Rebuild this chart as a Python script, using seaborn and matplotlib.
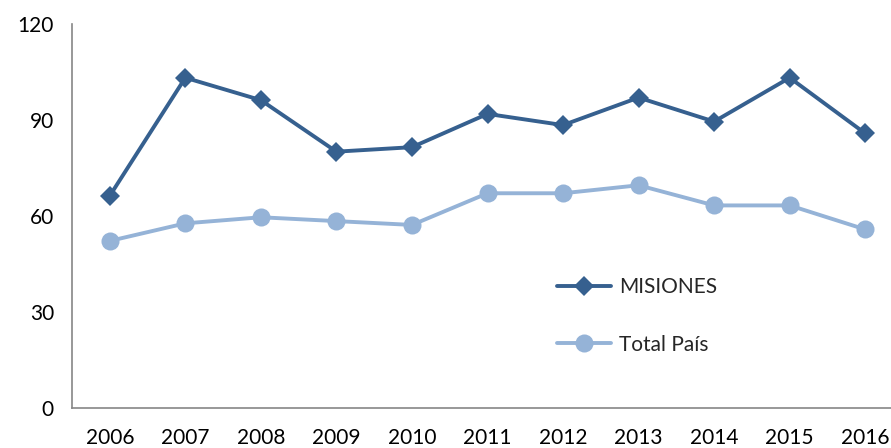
import pandas as pd
import matplotlib
matplotlib.use("Agg")
import matplotlib.pyplot as plt
import seaborn as sns

# --- Datos ---
years = [2006, 2007, 2008, 2009, 2010, 2011, 2012, 2013, 2014, 2015, 2016]
misiones = [66.4, 103.3, 96.3, 80.2, 81.6, 92.0, 88.5, 97.1, 89.6, 103.3, 85.9]
total_pais = [52.3, 57.8, 59.7, 58.5, 57.3, 67.2, 67.2, 69.7, 63.4, 63.4, 55.9]
y_ticks = [0, 30, 60, 90, 120]

DARK = "#36608f"
LIGHT = "#95b3d7"
AXIS_GRAY = "#868686"

sns.set_style("white")
plt.rcParams["font.family"] = ["Lato", "DejaVu Sans"]

df = pd.DataFrame({"year": years, "MISIONES": misiones, "Total País": total_pais})

fig = plt.figure(figsize=(8.91, 4.48), dpi=100)
ax = fig.add_axes([72 / 891, 39.7 / 448, 831 / 891, 384 / 448])

sns.lineplot(data=df, x="year", y="MISIONES", ax=ax, color=DARK, linewidth=2.8,
             marker="D", markersize=10.5, markeredgewidth=0, label="MISIONES")
sns.lineplot(data=df, x="year", y="Total País", ax=ax, color=LIGHT, linewidth=2.8,
             marker="o", markersize=13, markeredgewidth=0, label="Total País")

ax.set_xlim(years[0] - 0.5, years[-1] + 0.5)
ax.set_ylim(0, 120)
ax.set_xticks(years)
ax.set_xticklabels([str(y) for y in years])
ax.set_yticks(y_ticks)
ax.set_xlabel("")
ax.set_ylabel("")
ax.tick_params(axis="both", length=0, labelsize=15, colors="black")
ax.tick_params(axis="y", pad=13)
ax.tick_params(axis="x", pad=14)

for side in ["top", "right"]:
    ax.spines[side].set_visible(False)
for side in ["left", "bottom"]:
    ax.spines[side].set_color(AXIS_GRAY)
    ax.spines[side].set_linewidth(1.2)

ax.legend(loc="upper left", bbox_to_anchor=(0.561, 0.39), frameon=False, fontsize=15,
          handlelength=2.6, handletextpad=0.4, labelspacing=1.8)

fig.savefig("out.png", dpi=100)
